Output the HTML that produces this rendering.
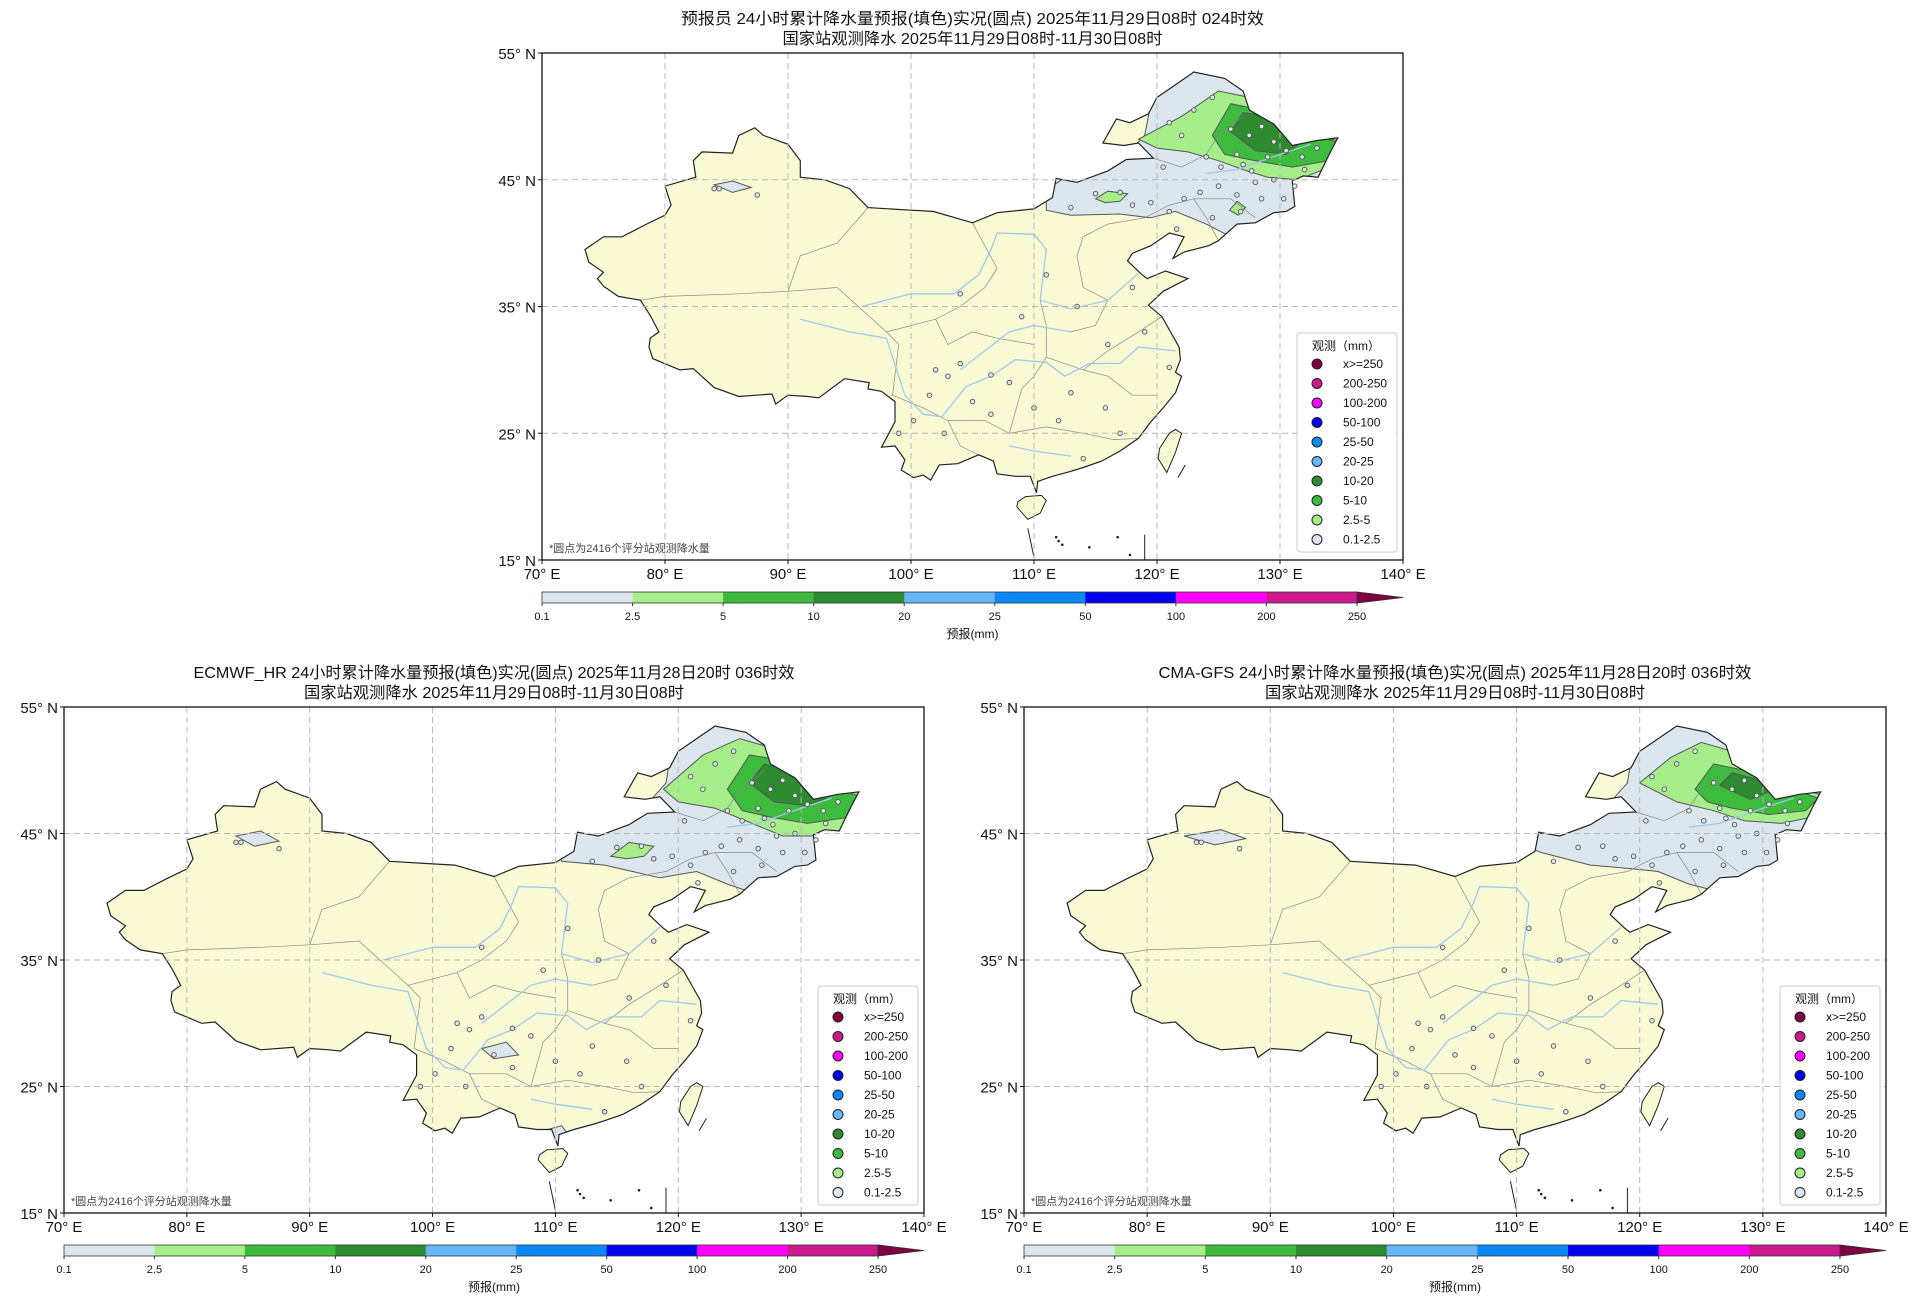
<!DOCTYPE html>
<html><head><meta charset="utf-8">
<style>
html,body{margin:0;padding:0;background:#fff;}
svg{display:block;font-family:"Liberation Sans","Noto Sans CJK SC",sans-serif;}
</style></head>
<body>
<svg id="fig" width="1920" height="1306" viewBox="0 0 1920 1306" xmlns="http://www.w3.org/2000/svg"></svg>
<script>
// ---- data arrays ----
const cbLevels = ["0.1","2.5","5","10","20","25","50","100","200","250"];
const cbColors = ["#dbe6ef","#a6ee8a","#3dbb3d","#2e8a2e","#66b6f8","#0a88f5","#0000f0","#ff00ff","#cc1a8c"];
const cbExtendColor = "#800040";
const legLabels = ["x>=250","200-250","100-200","50-100","25-50","20-25","10-20","5-10","2.5-5","0.1-2.5"];
const legColors = ["#800040","#cc1a8c","#ff00ff","#0000f0","#0a88f5","#66b6f8","#2e8a2e","#3dbb3d","#a6ee8a","#dbe6ef"];
const lonTicks = [70,80,90,100,110,120,130,140];
const latTicks = [15,25,35,45,55];

const china = [[73.5,39.5],[75,40.5],[76.5,40.5],[78.5,41.5],[80,42.2],[80.5,43],[80,44.5],[82.5,45.2],[82.3,46.5],[83,47.2],[85.5,47.1],[86,48.5],[87.3,49.1],[88,48.5],[90,47.8],[91,46.5],[91,45.2],[93,45],[95,44.3],[96.5,42.8],[100,42.6],[101.8,42.5],[105,41.6],[107,42.4],[110,42.7],[111.5,43.6],[111.8,45.1],[113.5,44.8],[116,45.7],[117.5,46.6],[119.7,46.7],[118.5,47.9],[117.3,47.7],[115.6,47.9],[116.7,49.8],[117.8,49.5],[119.3,50.2],[120,51.5],[121.5,52.5],[123,53.5],[125.5,53],[127,52],[127.5,50.5],[129.5,49.4],[131,47.7],[133,48.1],[134.7,48.3],[134,47],[133.1,45.2],[131.9,45.3],[131,44.9],[131.2,42.9],[130.5,42.5],[129.5,42.4],[128,41.6],[126.5,41.5],[125,40.2],[124.2,39.8],[122.2,39.3],[121.3,38.8],[122.2,40.5],[121,40.8],[119.5,39.8],[118,39.2],[117.6,38.6],[118.8,37.5],[119.2,37.2],[120.7,37.8],[122.5,37.2],[120.5,36.2],[119.3,35.1],[120.4,34.2],[121.8,31.8],[121.9,30.8],[121.5,29.8],[122,29.5],[121.5,28.2],[120.5,27],[119.5,25.9],[118.5,24.6],[117,23.6],[115.5,22.8],[114,22.3],[113,22],[111.5,21.6],[110.3,21.2],[110.2,20.3],[109.7,21.6],[108.5,21.6],[107,21.8],[106.7,22.8],[105.5,23.3],[103.8,22.6],[102.3,22.5],[101.6,21.3],[101,21.7],[100.2,21.5],[99.2,22.1],[99.5,22.9],[98.7,24],[97.6,23.9],[98.2,25],[98.7,25.9],[98.7,27.5],[97.6,28.3],[96.5,28.5],[96.6,29],[94.6,29.3],[92.5,27.8],[91.6,27.9],[90,28],[89,27.3],[88.7,28.1],[86,27.9],[84,28.6],[82.3,30.1],[81.2,30],[79,30.9],[78.7,31.8],[78.8,32.5],[79.5,33],[78.8,34.3],[78,35.5],[76.2,35.8],[75,36.6],[74.5,37.2],[75,37.7],[73.8,38.5]];
const hainan = [[108.6,19.2],[109.5,18.2],[110.5,18.7],[111,19.7],[110.6,20.1],[109.3,20],[108.7,19.6]];
const taiwan = [[121.5,25.3],[122,25],[121.5,23.5],[120.8,21.9],[120.1,23],[120.2,23.8],[121,25]];
const rivers = [
 [[96,35],[100,36],[103.5,36],[105.5,37.5],[106.5,39.5],[107,40.8],[110,40.7],[111,39.5],[110.5,35.5],[113,34.8],[116,35.5],[118.5,37.6]],
 [[91,34],[95,33],[98,32.5],[99.5,28],[101,26.5],[102.5,26.3],[104.5,28.7],[106.5,29.5],[108.5,30.8],[111,30.6],[112.5,29.5],[114.5,30.5],[117,30.5],[118.5,31.8],[121.5,31.5]],
 [[124,45.5],[126.5,45.8],[130,47],[132.5,47.8]],
 [[104,30],[106,31.5],[108,33],[110,33.5],[113,33]],
 [[108,24],[110,23.6],[113,23.2]]
];
const borders = [
 [[78,35.5],[80,35.8],[86,36],[90,36.2],[94,36.5]],[[90,36.2],[91,39],[94,40],[96.5,42.8]],
 [[94,36.5],[98,33],[99,32],[98.5,28]],[[98,33],[102,34],[104,35],[106,36.5],[107,38],[105,41.6]],
 [[102,34],[103,32],[105,33],[107,32.5],[110,32]],[[98.5,28],[101,27],[103,26],[104,24],[105.5,23.3]],
 [[103,26],[106,26],[108,25],[111,25.5],[114,25],[116.5,24.5],[118.5,24.6]],[[108,25],[109,28.5],[110,29.5],[111,31],[111,33.5],[110.5,35.5]],
 [[111,31],[114,30],[116,29.5],[118,28],[120,28]],[[114,30],[116,31.5],[118.5,33],[120.4,34.2]],
 [[113,33],[115,33.5],[116,35.5],[114,36.5],[113.5,39],[114,40.5],[116,41.5],[119,42],[121,43],[123,43.5],[126,43.5],[128,42]],
 [[110.5,35.5],[111,39.5]],[[119.7,46.7],[122,46],[124,47],[125,48.5],[127,50]],[[123,43.5],[124,42],[125,40.2]]
];
const stationsNE = [[121,49.5],[123,50.5],[124.5,51.5],[122,48.5],[126,49],[127.5,48.5],[128.5,49.2],[129.5,48],[130.5,47.3],[131.8,46.8],[133,47.5],[126.5,47],[125.2,46],[127.7,45.7],[129.5,45],[131.2,44.5],[130.3,43.5],[128.5,43.5],[126.5,43.8],[125,44.5],[123.5,44],[122.2,43.5],[121,42.5],[119.5,43.2],[117,44],[115,43.9],[113,42.8],[124.5,42],[126.8,42.5],[128,44.8],[124,46.8],[120.5,46],[132,45.8],[127,46.2],[129,46.8],[121.6,41.1],[118,43]];
const stationsOther = [[84,44.3],[84.4,44.3],[87.5,43.8],[103,29.5],[104,30.5],[106.5,29.6],[102,30],[101.5,28],[105,27.5],[108,29],[110,27],[113,28.2],[115.8,27],[112,26],[99,25],[100.2,26],[117,25],[114,23],[106.5,26.5],[109,34.2],[113.5,35],[111,37.5],[104,36],[118,36.5],[121,30.2],[116,32],[119,33],[102.7,25]];

const regTop = [
 [0,[[111,44.2],[113,45.5],[117,46.5],[119,48.5],[119.5,51],[122,53.8],[126,53.8],[131,49],[135,48.5],[134,44],[131,41.5],[126,40.5],[124,41.5],[121.5,42.5],[119.5,42],[117,42.3],[113,42.2],[111,42.6]]],
 [0,[[84,44.6],[85.5,44.9],[87,44.4],[85.5,44.0]]],
 [1,[[118.5,48.2],[122,50],[125,52],[127.5,51.5],[130,49.5],[133,48.5],[135,48],[134,46],[131.5,45],[129,45.2],[127,45.8],[125,46.5],[122.5,47.2],[120,47.5]]],
 [1,[[115,43.5],[116,44.1],[117.6,43.9],[117,43.3],[115.8,43.2]]],
 [1,[[125.9,42.6],[126.5,43.3],[127.2,42.8],[126.6,42.2]]],
 [2,[[124.5,48.5],[126,51],[128.5,50.5],[131,49],[134.5,48],[134,46.5],[131,46],[128,46.5],[125.5,47]]],
 [3,[[126,48.8],[127,50.3],[129,50],[130,48.8],[131.5,47.8],[130.5,47],[128,47.3]]]
];
const regEC = [
 [0,[[110,44.5],[113,45.8],[117,46.8],[119,49],[119.5,52],[122,53.8],[126,53.8],[131,49.5],[135,48.5],[134,44],[131,41.5],[127,40],[124,41],[121.5,42],[118.5,41.5],[114,42.5],[110.5,42.8]]],
 [0,[[108.2,19],[109.5,17.8],[111.2,18.6],[111.5,20.6],[110.5,21.9],[109,21.5]]],
 [0,[[104,28],[106,28.5],[107,27.5],[105,27.2]]],
 [0,[[84,44.8],[86,45.2],[87.5,44.4],[85.5,44.0]]],
 [1,[[118.8,48.5],[122,51.2],[125,52.5],[127.5,51.8],[130,49.8],[133,48.8],[135,48.2],[134,45.5],[131.5,44.8],[128.5,44.8],[126,45.8],[123,47],[120,47.5]]],
 [1,[[114.5,43.2],[116,44.3],[118,44],[117.2,43.2],[115.8,43.0]]],
 [2,[[124,48.5],[125.8,51.2],[128.5,50.8],[131,49.2],[134.6,48],[134,46.3],[130.5,45.8],[127.5,46.3],[125.2,46.8]]],
 [3,[[125.8,49],[127,50.5],[129,50],[130,49],[132,47.8],[130.5,47.2],[127.8,47.5]]]
];
const regGFS = [
 [0,[[108,45],[112,45],[117,46.8],[119,49],[119.5,52],[122,53.8],[126,53.8],[131,49.5],[135,48.5],[134,44],[131,41.5],[128,41],[126,40.5],[124,41],[121.5,42],[119.5,42.2],[116,42.5],[112,43.5]]],
 [0,[[83,44.8],[86,45.3],[88,44.6],[85.5,44.1]]],
 [1,[[120,49],[122.5,51],[125,52.2],[127.5,51.5],[130,49.5],[133,48.5],[135,48],[134,46.3],[131.5,45.8],[128.5,46],[126,46.8],[123,47.5]]],
 [2,[[124.5,48.5],[126,50.5],[128.5,50],[131,49],[134.5,47.8],[133.5,46.8],[130.5,46.5],[127.5,47],[125.5,47.5]]],
 [3,[[126.5,48.8],[127.5,49.8],[129.5,49.3],[130.5,48.3],[129,47.7]]]
];

const NS = "http://www.w3.org/2000/svg";
const fig = document.getElementById('fig');
function mk(tag, attrs, parent){ const e=document.createElementNS(NS,tag); for(const k in attrs) e.setAttribute(k,attrs[k]); (parent||fig).appendChild(e); return e; }
function txt(x,y,s,size,anchor,parent,fill){ const t=mk('text',{x:x,y:y,'font-size':size,'text-anchor':anchor||'start',fill:fill||'#111'},parent); t.textContent=s; return t; }

function panel(id, x0,y0,x1,y1, titles, tw, regions){
  const g = mk('g',{});
  
  
  const X = lon => x0 + (lon-70)/70*(x1-x0);
  const Y = lat => y1 - (lat-15)/40*(y1-y0);
  const pts = arr => arr.map(p=>X(p[0]).toFixed(1)+','+Y(p[1]).toFixed(1)).join(' ');
  const cx = (x0+x1)/2;
  const t1 = txt(cx, y0-29, titles[0], 16, 'middle', g);
  t1.setAttribute('textLength', tw[0]); t1.setAttribute('lengthAdjust','spacingAndGlyphs');
  
  
  const t2 = txt(cx, y0-9, titles[1], 16, 'middle', g);
  t2.setAttribute('textLength', tw[1]); t2.setAttribute('lengthAdjust','spacingAndGlyphs');
  
  
  const cp = mk('clipPath',{id:'clip-'+id},g);
  mk('polygon',{points:pts(china)},cp);
  const land = mk('polygon',{points:pts(china),fill:'#f9fad3',stroke:'none'},g);
  
  
  mk('polygon',{points:pts(hainan),fill:'#f9fad3',stroke:'none'},g);
  mk('polygon',{points:pts(taiwan),fill:'#f9fad3',stroke:'#222','stroke-width':1},g);
  const rg = mk('g',{'clip-path':'url(#clip-'+id+')'},g);
  regions.forEach(r=>{
    const p = mk('polygon',{points:pts(r[1]),fill:cbColors[r[0]],stroke:'#555','stroke-width':1},rg);
    
    
  });
  borders.forEach(b=>mk('polyline',{points:pts(b),fill:'none',stroke:'#888','stroke-width':0.7},g));
  rivers.forEach(b=>mk('polyline',{points:pts(b),fill:'none',stroke:'#9ec9ef','stroke-width':1.3},g));
  mk('polygon',{points:pts(china),fill:'none',stroke:'#222','stroke-width':1.2},g);
  mk('polygon',{points:pts(hainan),fill:'none',stroke:'#222','stroke-width':1},g);
  [[112,16.5],[112.3,16.2],[111.8,16.8],[114.5,16],[116.8,16.8],[117.8,15.4]].forEach(p=>mk('circle',{cx:X(p[0]),cy:Y(p[1]),r:1.3,fill:'#222'},g));
  mk('line',{x1:X(119),y1:Y(15),x2:X(119),y2:Y(17),stroke:'#222','stroke-width':1},g);
  mk('line',{x1:X(109.5),y1:Y(17.5),x2:X(110),y2:Y(15.2),stroke:'#222','stroke-width':1},g);
  mk('line',{x1:X(121.7),y1:Y(21.5),x2:X(122.3),y2:Y(22.5),stroke:'#222','stroke-width':1},g);
  stationsNE.concat(stationsOther).forEach(p=>{
    const c = mk('circle',{cx:X(p[0]),cy:Y(p[1]),r:2.3,fill:'#dbe6ef',stroke:'#555','stroke-width':0.9},g);
    
    
  });
  lonTicks.slice(1,-1).forEach(l=>mk('line',{x1:X(l),y1:y0,x2:X(l),y2:y1,stroke:'#b8b8b8','stroke-width':1,'stroke-dasharray':'6,4'},g));
  latTicks.slice(1,-1).forEach(l=>mk('line',{x1:x0,y1:Y(l),x2:x1,y2:Y(l),stroke:'#b8b8b8','stroke-width':1,'stroke-dasharray':'6,4'},g));
  mk('rect',{x:x0,y:y0,width:x1-x0,height:y1-y0,fill:'none',stroke:'#111','stroke-width':1.3},g);
  lonTicks.forEach(l=>{
    mk('line',{x1:X(l),y1:y1,x2:X(l),y2:y1+4,stroke:'#111'},g);
    const t = txt(X(l), y1+19, l+'° E', 15, 'middle', g);
    
    
  });
  latTicks.forEach(l=>{
    mk('line',{x1:x0-4,y1:Y(l),x2:x0,y2:Y(l),stroke:'#111'},g);
    const t = txt(x0-6, Y(l)+6, l+'° N', 15, 'end', g);
    
    
  });
  const fn = txt(x0+7, y1-8, '*圆点为2416个评分站观测降水量', 11, 'start', g, '#444');
  
  
  const lx = x1-106, ly = y1-227;
  const lg = mk('g',{},g);
  
  
  mk('rect',{x:lx,y:ly,width:100,height:219,rx:3,fill:'#fff',stroke:'#ccc','stroke-width':1},lg);
  txt(lx+15, ly+17, '观测（mm）', 12, 'start', lg);
  legLabels.forEach((s,i)=>{
    const yy = ly+31+i*19.5;
    const c = mk('circle',{cx:lx+20,cy:yy,r:5,fill:legColors[i],stroke:'#222','stroke-width':1},lg);
    
    
    const t = txt(lx+46, yy+4, s, 12, 'start', lg);
    
    
  });
  // colorbar
  const cbY = y1+32, cbH = 11, triW = 46, segW = (x1-x0-triW)/cbColors.length;
  const cb = mk('g',{},g);
  
  
  cbColors.forEach((c,i)=>{
    mk('rect',{x:x0+i*segW,y:cbY,width:segW+0.5,height:cbH,fill:c},cb);
  });
  const ts = x0+cbColors.length*segW;
  mk('polygon',{points:`${ts},${cbY} ${ts},${cbY+cbH} ${x1},${cbY+cbH/2}`,fill:cbExtendColor,stroke:'#333','stroke-width':0.8},cb);
  mk('rect',{x:x0,y:cbY,width:cbColors.length*segW,height:cbH,fill:'none',stroke:'#333','stroke-width':0.8},cb);
  cbLevels.forEach((l,i)=>{
    const xx = x0+i*segW;
    mk('line',{x1:xx,y1:cbY+cbH,x2:xx,y2:cbY+cbH+3,stroke:'#333'},cb);
    const t = txt(xx, cbY+cbH+17, l, 11, 'middle', cb);
    
    
  });
  const cl = txt((x0+x1)/2, cbY+cbH+35, '预报(mm)', 12, 'middle', cb);
  
  
}

panel('forecaster', 542,53,1403,560, ['预报员 24小时累计降水量预报(填色)实况(圆点) 2025年11月29日08时 024时效','国家站观测降水 2025年11月29日08时-11月30日08时'], [583,380], regTop);
panel('ecmwf', 64,707,924,1213, ['ECMWF_HR 24小时累计降水量预报(填色)实况(圆点) 2025年11月28日20时 036时效','国家站观测降水 2025年11月29日08时-11月30日08时'], [601,380], regEC);
panel('cma-gfs', 1024,707,1886,1213, ['CMA-GFS 24小时累计降水量预报(填色)实况(圆点) 2025年11月28日20时 036时效','国家站观测降水 2025年11月29日08时-11月30日08时'], [593,380], regGFS);
</script>
</body></html>
